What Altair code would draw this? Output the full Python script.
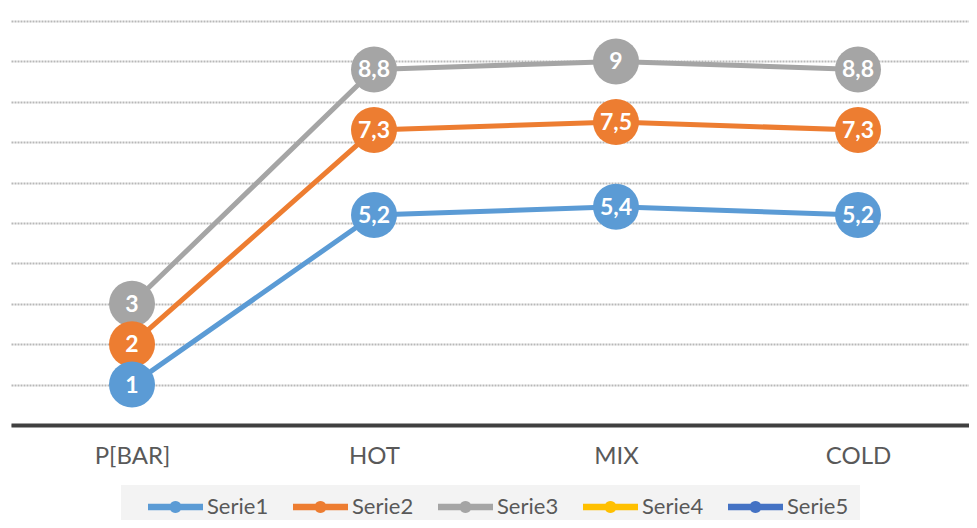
import altair as alt
import pandas as pd

categories = ["P[BAR]", "HOT", "MIX", "COLD"]
series_names = ["Serie1", "Serie2", "Serie3", "Serie4", "Serie5"]
serie1 = [1, 5.2, 5.4, 5.2]
serie2 = [2, 7.3, 7.5, 7.3]
serie3 = [3, 8.8, 9, 8.8]
colors = ["#5b9bd5", "#ed7d31", "#a5a5a5", "#ffc000", "#4472c4"]

rows = []
for z, (name, vals) in enumerate([("Serie3", serie3), ("Serie2", serie2), ("Serie1", serie1)]):
    for ci, (c, v) in enumerate(zip(categories, vals)):
        rows.append({"cat": c, "ci": ci, "serie": name, "value": v, "z": z,
                     "label": f"{v:g}".replace(".", ",")})
df = pd.DataFrame(rows)

seg = ("M-2.5,-0.29 L-0.461,-0.29 A0.545,0.545 0 0,1 0.461,-0.29 L2.5,-0.29 "
       "L2.5,0.29 L0.461,0.29 A0.545,0.545 0 0,1 -0.461,0.29 L-2.5,0.29 Z")

x = alt.X("cat:N", sort=categories, scale=alt.Scale(range=[0, 968], padding=0.5),
          axis=alt.Axis(title=None, labelAngle=0, domainColor="#404040", domainWidth=4,
                        ticks=False, grid=False, labelFont="Lato", labelFontSize=24,
                        labelColor="#595959", labelPadding=19))
y = alt.Y("value:Q", scale=alt.Scale(domain=[0, 10], nice=False),
          axis=alt.Axis(title=None, labels=False, ticks=False, domain=False,
                        values=list(range(0, 11)), gridColor="#b8b8b8", gridWidth=2,
                        gridDash=[2, 1]))
color_scale = alt.Scale(domain=series_names, range=colors)
legend = alt.Legend(title=None, orient="none", legendX=110, legendY=464,
                    direction="horizontal", columns=5,
                    symbolType=seg, symbolSize=484,
                    symbolStrokeWidth=0, symbolOpacity=1,
                    symbolOffset=32.5, labelOffset=20.5, columnPadding=8,
                    labelFont="Lato", labelFontSize=22,
                    labelColor="#595959", labelLimit=200,
                    padding=11, fillColor="#f3f3f3")
color = alt.Color("serie:N", scale=color_scale, legend=legend)

base = alt.Chart(df)

lines = base.mark_line(strokeWidth=5, interpolate="linear", strokeCap="round").encode(
    x=x, y=y, color=color, detail="serie:N", order=alt.Order("ci:Q"))

points = base.mark_point(filled=True, shape="circle", size=2116, opacity=1).encode(
    x=x, y=y, color=color, order=alt.Order("z:Q"))

texts = base.mark_text(font="Lato", fontSize=23, fontWeight="bold", color="white",
                       baseline="middle", align="center", dy=1).encode(
    x=x, y=y, text="label:N")

chart = alt.layer(lines, points, texts).properties(
    width=958, height=404,
    autosize=alt.AutoSizeParams(type="none"),
    padding={"left": 3, "top": 13, "right": 0, "bottom": 95},
).configure(font="Lato").configure_view(stroke=None)

chart.save("out.html", embed_options={"renderer": "svg", "actions": False})
